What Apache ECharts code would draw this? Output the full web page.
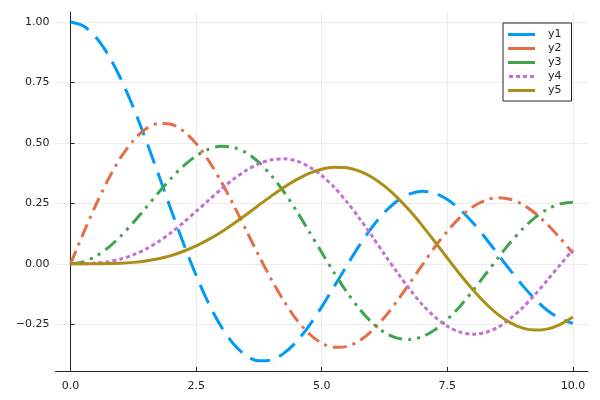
<!DOCTYPE html>
<html>
<head>
<meta charset="utf-8">
<script src="https://cdn.jsdelivr.net/npm/echarts@6/dist/echarts.min.js"></script>
<style>
  html, body { margin: 0; padding: 0; background: #fff; }
  #chart { width: 600px; height: 400px; }
</style>
</head>
<body>
<div id="chart"></div>
<script>
var xs = [0, 0.25, 0.5, 0.75, 1, 1.25, 1.5, 1.75, 2, 2.25, 2.5, 2.75, 3, 3.25, 3.5, 3.75, 4, 4.25, 4.5, 4.75,
    5, 5.25, 5.5, 5.75, 6, 6.25, 6.5, 6.75, 7, 7.25, 7.5, 7.75, 8, 8.25, 8.5, 8.75, 9, 9.25, 9.5, 9.75, 10]
var y1 = [1.0, 0.984, 0.938, 0.864, 0.765, 0.646, 0.512, 0.369, 0.224, 0.083, -0.048, -0.164, -0.260, -0.332, -0.380, -0.401, -0.397, -0.369, -0.321, -0.255,
    -0.178, -0.093, -0.007, 0.076, 0.151, 0.213, 0.260, 0.289, 0.300, 0.292, 0.266, 0.225, 0.172, 0.109, 0.042, -0.026, -0.090, -0.147, -0.194, -0.227, -0.246]
var y2 = [0, 0.124, 0.242, 0.349, 0.440, 0.510, 0.558, 0.580, 0.577, 0.548, 0.497, 0.426, 0.339, 0.241, 0.137, 0.033, -0.066, -0.155, -0.231, -0.289,
    -0.328, -0.345, -0.341, -0.318, -0.277, -0.221, -0.154, -0.080, -0.005, 0.069, 0.135, 0.191, 0.235, 0.262, 0.273, 0.267, 0.245, 0.209, 0.161, 0.105, 0.044]
var y3 = [0, 0.008, 0.031, 0.067, 0.115, 0.171, 0.232, 0.294, 0.353, 0.405, 0.446, 0.474, 0.486, 0.481, 0.459, 0.419, 0.364, 0.296, 0.218, 0.133,
    0.047, -0.038, -0.117, -0.186, -0.243, -0.284, -0.307, -0.313, -0.301, -0.273, -0.230, -0.176, -0.113, -0.046, 0.022, 0.087, 0.145, 0.192, 0.227, 0.248, 0.255]
var y4 = [0, 0.000, 0.003, 0.009, 0.020, 0.037, 0.061, 0.092, 0.129, 0.171, 0.217, 0.263, 0.309, 0.351, 0.387, 0.414, 0.430, 0.434, 0.425, 0.401,
    0.365, 0.316, 0.256, 0.188, 0.115, 0.039, -0.035, -0.105, -0.168, -0.219, -0.258, -0.282, -0.291, -0.284, -0.263, -0.227, -0.181, -0.126, -0.065, -0.003, 0.058]
var y5 = [0, 0.000, 0.000, 0.001, 0.002, 0.006, 0.012, 0.021, 0.034, 0.052, 0.074, 0.101, 0.132, 0.167, 0.204, 0.243, 0.281, 0.317, 0.348, 0.374,
    0.391, 0.399, 0.397, 0.383, 0.358, 0.321, 0.275, 0.220, 0.158, 0.092, 0.024, -0.043, -0.105, -0.161, -0.208, -0.243, -0.266, -0.274, -0.269, -0.250, -0.220]

var names = ['y1', 'y2', 'y3', 'y4', 'y5']
var colors = ['#009AFA', '#E36F47', '#3EA44E', '#C371D2', '#AC8E18']
var dashes = [[20, 10], [14, 6, 3, 6], [14, 6, 3, 6, 3, 6], [4, 3], 'solid']

// legend samples: plain bar, or a dotted bar for y4
var barIcon = 'path://M0,0h27v3h-27z'
var dotIcon = 'path://M0,0h4v3h-4zM7,0h4v3h-4zM14,0h4v3h-4zM21,0h4v3h-4z'

var xTicks = [0, 2.5, 5, 7.5, 10]
var yTicks = [-0.25, 0, 0.25, 0.5, 0.75, 1.0]

function pairs(ys) {
    return xs.map(function (x, i) { return [x, ys[i]] })
}

var allY = [y1, y2, y3, y4, y5]

var myChart = echarts.init(document.getElementById('chart'))

var axisText = { color: '#222', fontSize: 11, fontFamily: 'DejaVu Sans' }

myChart.setOption({
    animation: false,
    grid: { left: 55.5, right: 12, top: 12, bottom: 29 },
    legend: {
        orient: 'vertical',
        left: 503,
        top: 23,
        padding: [5, 10, 4, 5],
        itemGap: 1,
        itemWidth: 27,
        itemHeight: 3,
        borderColor: '#222',
        borderWidth: 1,
        borderRadius: 0,
        backgroundColor: '#fff',
        textStyle: { color: '#222', fontSize: 11, lineHeight: 13, fontFamily: 'DejaVu Sans', padding: [0, 0, 0, 8] },
        data: names.map(function (n, i) {
            return {
                name: n,
                icon: i === 3 ? dotIcon : barIcon,
                itemStyle: { color: colors[i] }
            }
        })
    },
    xAxis: {
        type: 'value',
        min: -0.3,
        max: 10.3,
        axisLine: { onZero: false, lineStyle: { color: '#222', width: 1 } },
        axisTick: { inside: true, length: 4, customValues: xTicks, lineStyle: { color: '#222' } },
        axisLabel: {
            customValues: xTicks,
            margin: 10,
            formatter: function (v) { return v.toFixed(1) },
            color: axisText.color, fontSize: axisText.fontSize, fontFamily: axisText.fontFamily
        },
        splitLine: { show: true, lineStyle: { color: '#ececec', width: 1 } }
    },
    yAxis: {
        type: 'value',
        min: -0.443,
        max: 1.041,
        axisLine: { show: true, lineStyle: { color: '#222', width: 1 } },
        axisTick: { show: true, inside: true, length: 4, customValues: yTicks, lineStyle: { color: '#222' } },
        axisLabel: {
            customValues: yTicks,
            margin: 6,
            formatter: function (v) { return v.toFixed(2).replace('-', '\u2212') },
            color: axisText.color, fontSize: axisText.fontSize, fontFamily: axisText.fontFamily
        },
        splitLine: { show: true, lineStyle: { color: '#ececec', width: 1 } }
    },
    series: names.map(function (n, i) {
        return {
            name: n,
            type: 'line',
            data: pairs(allY[i]),
            smooth: 0.3,
            showSymbol: false,
            symbol: 'none',
            color: colors[i],
            lineStyle: { width: 3, type: dashes[i], color: colors[i] }
        }
    })
})
</script>
</body>
</html>
